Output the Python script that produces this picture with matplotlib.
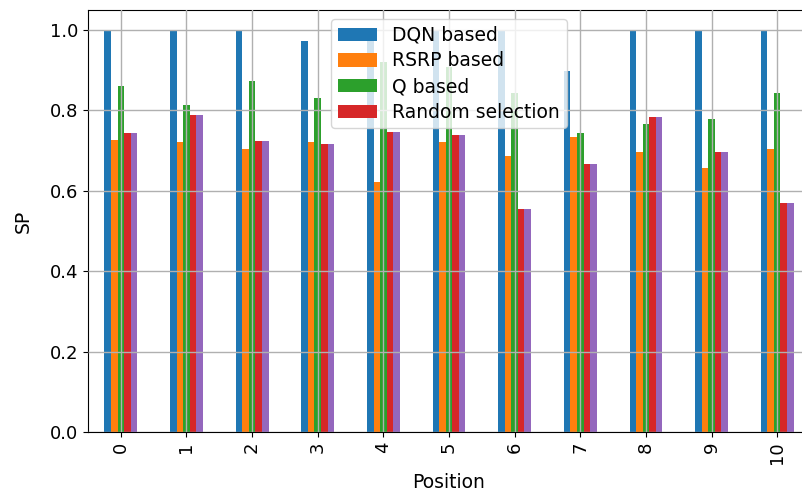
import matplotlib
matplotlib.use("Agg")
import matplotlib.pyplot as plt
import pandas as pd

positions = list(range(11))
dqn_based = [1.0, 1.0, 1.0, 0.973, 1.0, 1.0, 1.0, 0.898, 1.0, 1.0, 1.0]
rsrp_based = [0.726, 0.721, 0.703, 0.721, 0.621, 0.721, 0.686, 0.733, 0.696, 0.656, 0.703]
q_based = [0.860, 0.813, 0.873, 0.830, 0.920, 0.908, 0.843, 0.743, 0.766, 0.778, 0.843]
random_selection = [0.743, 0.788, 0.723, 0.716, 0.746, 0.738, 0.554, 0.668, 0.783, 0.696, 0.571]
random_selection_rep = [0.743, 0.788, 0.723, 0.716, 0.746, 0.738, 0.554, 0.668, 0.783, 0.696, 0.571]
legend_labels = ["DQN based", "RSRP based", "Q based", "Random selection"]

df = pd.DataFrame(
    {
        "DQN based": dqn_based,
        "RSRP based": rsrp_based,
        "Q based": q_based,
        "Random selection": random_selection,
        "Random selection (rep)": random_selection_rep,
    },
    index=positions,
)

plt.rcParams["font.family"] = "DejaVu Sans"
plt.rcParams["font.size"] = 13

fig = plt.figure(figsize=(8.02, 4.92), dpi=100)
W, H = 802, 492
ax = fig.add_axes([88 / W, 1 - 432 / H, (810 - 88) / W, (432 - 10) / H])
df.plot.bar(ax=ax, legend=False)
ax.set_axisbelow(False)
ax.grid(True, color="#b0b0b0", linewidth=1.0)
ax.set_ylim(0, 1.05)
ax.set_yticks([0.0, 0.2, 0.4, 0.6, 0.8, 1.0])
ax.tick_params(labelsize=13)
ax.set_xlabel("Position", fontsize=13.5, labelpad=6)
ax.set_ylabel("SP", fontsize=13.5, labelpad=12)
handles, _ = ax.get_legend_handles_labels()
ax.legend(handles[:4], legend_labels, loc="upper center", fontsize=13.5,
          labelspacing=0.35, borderpad=0.35, handlelength=2.1)

fig.savefig("out.png", dpi=100)
